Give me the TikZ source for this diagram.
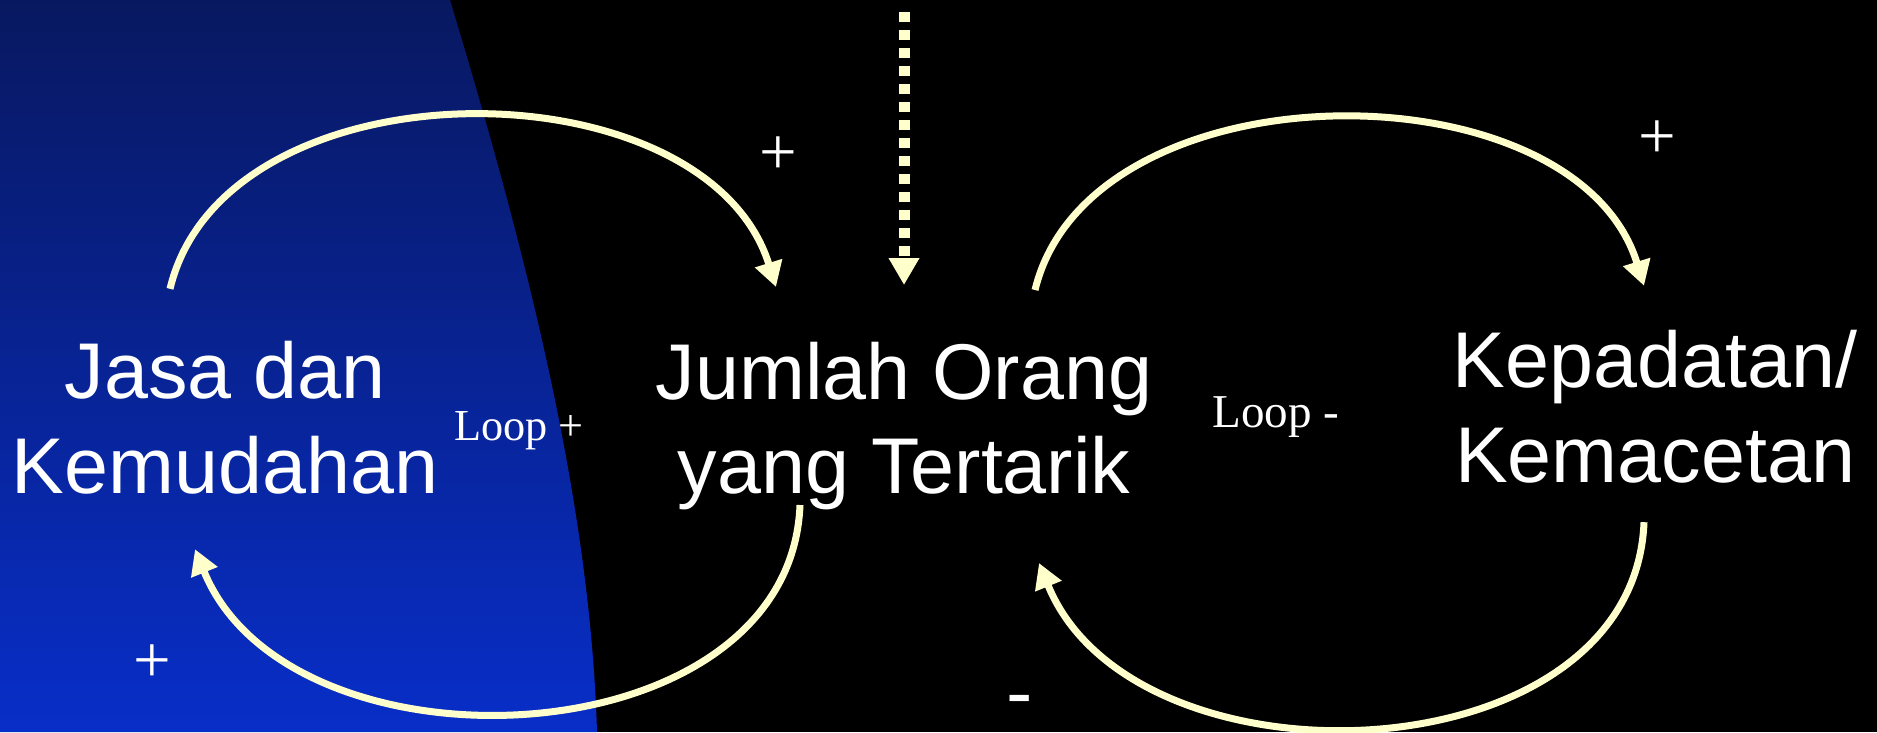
\documentclass[tikz,border=0pt]{standalone}
\usepackage{fontspec}
\setmainfont{Liberation Sans}
\newfontfamily\seriffont{Liberation Serif}
\usetikzlibrary{arrows.meta}
\definecolor{krem}{RGB}{255,255,204}
\definecolor{birutua}{RGB}{8,24,96}
\definecolor{birumuda}{RGB}{8,46,200}
\tikzset{
  variabel/.style={text=white, align=center, inner sep=0pt, font={\fontsize{22.5}{27}\selectfont}},
  tandaloop/.style={text=white, inner sep=0pt, anchor=base, font={\seriffont\fontsize{12.6}{14}\selectfont}},
  polaritas/.style={text=white, inner sep=0pt, font={\seriffont\fontsize{19}{22}\selectfont}},
  panah/.style={krem, line width=0.7mm, -{Triangle[width=2.7mm,length=2.5mm]}}
}

\begin{document}
\begin{tikzpicture}
		\useasboundingbox (0,0) rectangle (18.77,7.32);
		\fill[black] (0,0) rectangle (18.77,7.32);
		\shade[top color=birutua, bottom color=birumuda] (0,0) -- (5.97,0) .. controls (5.9,2.4) and (5.2,5.0) .. (4.50,7.32) -- (0,7.32) -- cycle;
		% variabel
		\node[variabel] (jasa) at (2.25,3.14) {Jasa dan\\Kemudahan};
		\node[variabel] (jumlah) at (9.04,3.06) {Jumlah Orang\\yang Tertarik};
		\node[variabel] (padat) at (16.55,3.25) {Kepadatan/\\Kemacetan};
		\node[tandaloop] (lplus) at (5.19,2.92) {Loop +};
		\node[tandaloop, font={\seriffont\fontsize{13.4}{15}\selectfont}] (lmin) at (12.76,3.05) {Loop -};
		% polaritas
		\node[polaritas] (p1) at (7.78,5.76) {+};
		\node[polaritas] (p2) at (16.57,5.92) {+};
		\node[polaritas] (p3) at (1.52,0.68) {+};
		\node[variabel, anchor=base] (m1) at (10.20,0.13) {-};
		% panah
		\coordinate (luar) at (9.04,7.20);
		\draw[krem, line width=1.1mm, dash pattern=on 1.0mm off 0.8mm, -{Triangle[width=2.9mm,length=2.7mm]}] (luar) -- ([yshift=0.56cm]jumlah.north);
		\draw[panah] ([xshift=-0.55cm,yshift=0.52cm]jasa.north) .. controls +(0.55,2.30) and +(-0.71,2.27) .. ([xshift=-1.28cm,yshift=0.54cm]jumlah.north);
		\draw[panah] ([xshift=-1.04cm,yshift=0.06cm]jumlah.south) .. controls +(-0.1,-2.57) and +(0.95,-2.34) .. ([xshift=-0.30cm,yshift=-0.54cm]jasa.south);
		\draw[panah] ([xshift=1.31cm,yshift=0.51cm]jumlah.north) .. controls +(0.55,2.27) and +(-0.69,2.24) .. ([xshift=-0.11cm,yshift=0.44cm]padat.north);
		\draw[panah] ([xshift=-0.11cm,yshift=-0.38cm]padat.south) .. controls +(-0.1,-2.57) and +(0.95,-2.34) .. ([xshift=1.35cm,yshift=-0.52cm]jumlah.south);
	\end{tikzpicture}
\end{document}
